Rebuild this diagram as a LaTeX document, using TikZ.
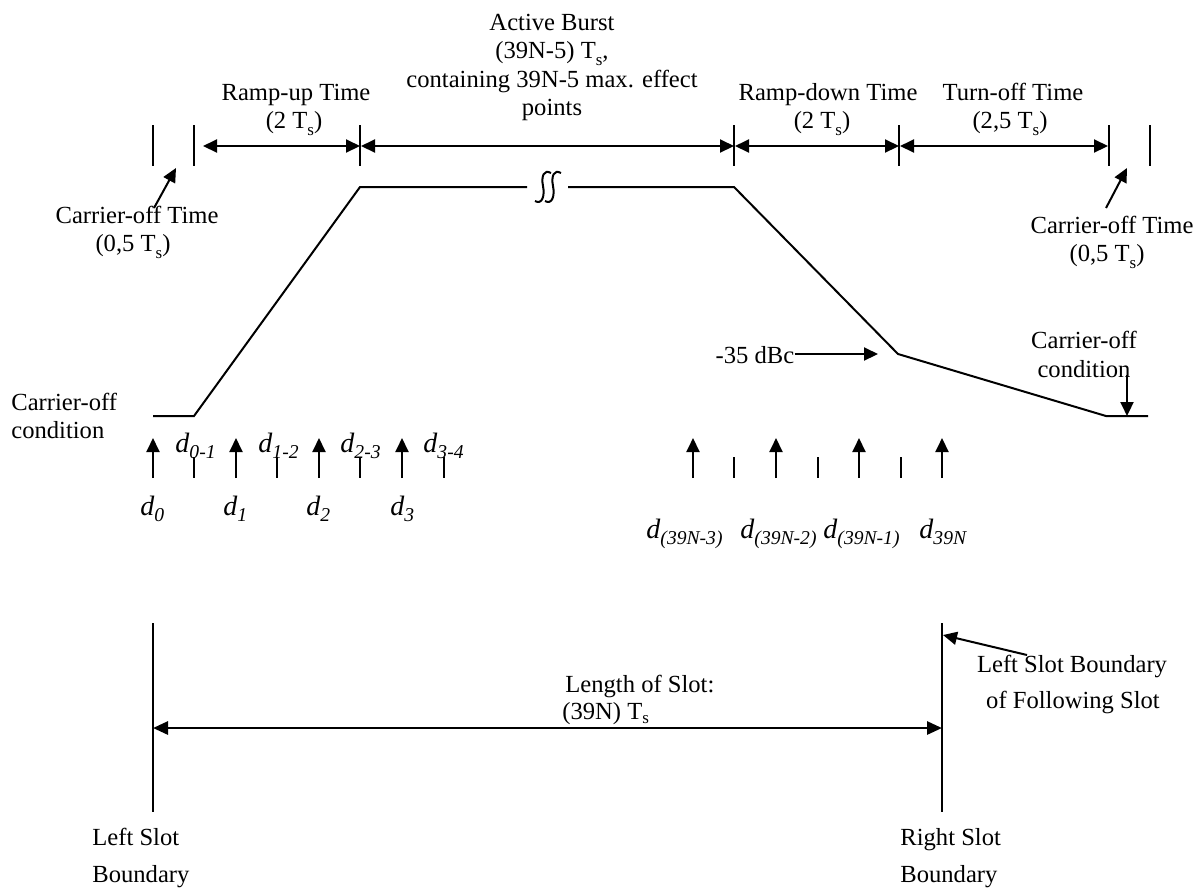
\documentclass[tikz,border=0pt]{standalone}
\usepackage{fontspec}
\setmainfont{Liberation Serif}
\usetikzlibrary{arrows.meta}
\newcommand{\SubS}{T\raisebox{-0.3em}{\fontsize{8.5}{9}\selectfont s}}
\newcommand{\DLab}[1]{\textit{d}\raisebox{-0.22em}{\fontsize{9.8}{10}\selectfont\itshape #1}}
\begin{document}
\begin{tikzpicture}[x=0.5pt,y=-0.5pt,
  ln/.style={line width=1pt},
  tipa/.style={-{Triangle[length=7pt,width=6.5pt]}},
  dtip/.style={{Triangle[length=7pt,width=6.5pt]}-{Triangle[length=7pt,width=6.5pt]}},
  lbl/.style={inner sep=0pt, anchor=base, font=\fontsize{12.3}{14}\selectfont},
  lbll/.style={lbl, anchor=base west},
  dl/.style={inner sep=0pt, anchor=base west, font=\fontsize{14}{16}\selectfont}]
\useasboundingbox (0,0) rectangle (1202,890);

% ---- top ticks ----
\foreach \x [count=\i] in {153,194,360,734,899,1109,1150}
  \draw[ln] (\x,125) coordinate (tt\i) -- (\x,166) coordinate (tb\i);
\coordinate (a1s) at (203,146);
\coordinate (a1e) at (360,146);
\coordinate (a2s) at (361,146);
\coordinate (a2e) at (734,146);
\coordinate (a3s) at (735,146);
\coordinate (a3e) at (899,146);
\coordinate (a4s) at (900,146);
\coordinate (a4e) at (1108,146);
\draw[ln,dtip] (a1s) -- (a1e);
\draw[ln,dtip] (a2s) -- (a2e);
\draw[ln,dtip] (a3s) -- (a3e);
\draw[ln,dtip] (a4s) -- (a4e);

% ---- top labels ----
\node[lbl] (ru1) at (296,100) {Ramp-up Time};
\node[lbl] (ru2) at (294,128) {(2 \SubS)};
\node[lbl] (ab1) at (552,30) {Active Burst};
\node[lbl] (ab2) at (552,58) {(39N-5) \SubS,};
\node[lbl] (ab3) at (552,87) {containing 39N-5 max. effect};
\node[lbl] (ab4) at (552,115) {points};
\node[lbl] (rd1) at (828,100) {Ramp-down Time};
\node[lbl] (rd2) at (822,128) {(2 \SubS)};
\node[lbl] (to1) at (1013,100) {Turn-off Time};
\node[lbl] (to2) at (1010,128) {(2,5 \SubS)};

% ---- carrier-off time labels ----
\node[lbl] (col1) at (137,223) {Carrier-off Time};
\node[lbl] (col2) at (133,251) {(0,5 \SubS)};
\coordinate (colA) at (154,208);
\coordinate (colB) at (176,168);
\draw[ln,tipa] (colA) -- (colB);
\node[lbl] (cor1) at (1112,233) {Carrier-off Time};
\node[lbl] (cor2) at (1107,261) {(0,5 \SubS)};
\coordinate (corA) at (1106,208);
\coordinate (corB) at (1127,168);
\draw[ln,tipa] (corA) -- (corB);

% ---- burst envelope ----
\coordinate (p0) at (153,416);
\coordinate (p1) at (194,416);
\coordinate (p2) at (360,187);
\coordinate (p3) at (527,187);
\coordinate (p4) at (568,187);
\coordinate (p5) at (734,187);
\coordinate (p6) at (898,354);
\coordinate (p7) at (1106,416);
\coordinate (p8) at (1148,416);
\draw[ln] (p0) -- (p1) -- (p2) -- (p3);
\draw[ln] (p4) -- (p5) -- (p6) -- (p7) -- (p8);
% break symbol
\draw[ln] (551,173) .. controls (544,169) and (541,176) .. (543,186) .. controls (545,196) and (542,205) .. (535,201);
\draw[ln] (561,173) .. controls (554,169) and (551,176) .. (553,186) .. controls (555,196) and (552,205) .. (545,201);

% ---- -35 dBc ----
\node[lbl] (dbc) at (755,363) {-35 dBc};
\coordinate (dbcT) at (878,354);
\draw[ln,tipa] (dbc.east |- dbcT) -- (dbcT);

% ---- right carrier-off condition ----
\node[lbl] (cc1) at (1084,348) {Carrier-off};
\node[lbl] (cc2) at (1084,377) {condition};
\coordinate (ccA) at (1127,375);
\coordinate (ccB) at (1127,416);
\draw[ln,tipa] (ccA) -- (ccB);

% ---- left carrier-off condition ----
\node[lbll] (lc1) at (11,410) {Carrier-off};
\node[lbll] (lc2) at (11,438) {condition};

% ---- sample arrows and ticks ----
\foreach \x [count=\i] in {153,236,319,402,693,776,859,942}
  \draw[ln,tipa] (\x,478) coordinate (sb\i) -- (\x,438) coordinate (st\i);
\foreach \x in {194,277,360,444,734,818,901}
  \draw[ln] (\x,457) -- (\x,478);

% ---- d labels ----
\node[dl] (d01) at (175,452) {\DLab{0-1}};
\node[dl] (d12) at (258,452) {\DLab{1-2}};
\node[dl] (d23) at (340,452) {\DLab{2-3}};
\node[dl] (d34) at (423,452) {\DLab{3-4}};
\node[dl] (d0) at (140,515) {\DLab{0}};
\node[dl] (d1) at (223,515) {\DLab{1}};
\node[dl] (d2) at (306,515) {\DLab{2}};
\node[dl] (d3) at (390,515) {\DLab{3}};
\node[dl] (dn3) at (646,538) {\DLab{(39N-3)}};
\node[dl] (dn2) at (740,538) {\DLab{(39N-2)}};
\node[dl] (dn1) at (823,538) {\DLab{(39N-1)}};
\node[dl] (dn0) at (919,538) {\DLab{39N}};

% ---- slot ----
\coordinate (lsT) at (153,623);
\coordinate (lsB) at (153,812);
\coordinate (rsT) at (942,623);
\coordinate (rsB) at (942,812);
\draw[line width=0.8pt] (lsT) -- (lsB);
\draw[line width=0.8pt] (rsT) -- (rsB);
\draw[line width=1.4pt,{Triangle[length=7.5pt,width=6.5pt]}-{Triangle[length=7.5pt,width=6.5pt]}] (lsT |- 0,728) -- (rsT |- 0,728);
\node[lbll] (los1) at (565,692) {Length of Slot:};
\node[lbll] (los2) at (562,719) {(39N) T\raisebox{-0.2em}{\fontsize{8.5}{9}\selectfont s}};

\node[lbl] (fs1) at (1072,672) {Left Slot Boundary};
\node[lbl] (fs2) at (1073,708) {of Following Slot};
\coordinate (fsA) at (1027,655);
\coordinate (fsB) at (943,635);
\draw[ln,tipa] (fsA) -- (fsB);

\node[lbll] (lb1) at (92,845) {Left Slot};
\node[lbll] (lb2) at (92,882) {Boundary};
\node[lbll] (rb1) at (900,845) {Right Slot};
\node[lbll] (rb2) at (900,882) {Boundary};
\end{tikzpicture}
\end{document}
